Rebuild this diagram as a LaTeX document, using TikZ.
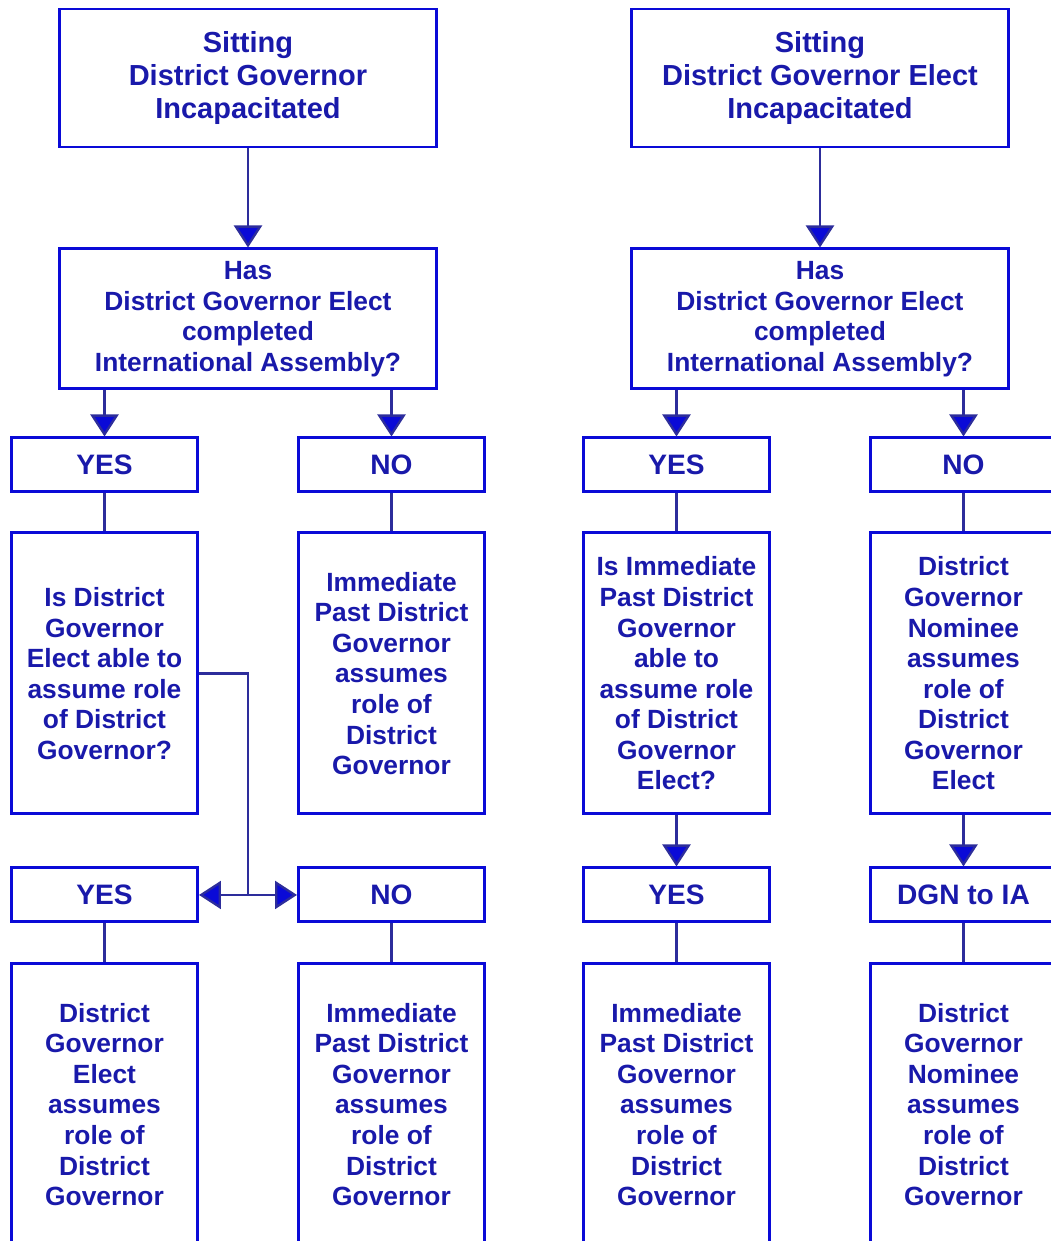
\documentclass[tikz,border=0pt]{standalone}
\usepackage{fontspec}
\setmainfont{Liberation Sans}
\usetikzlibrary{positioning, arrows.meta, calc}
\definecolor{boxblue}{RGB}{10,10,215}
\definecolor{textblue}{RGB}{25,25,170}
\definecolor{lineblue}{RGB}{45,45,155}
\tikzset{
>={Triangle[width=0.56cm,length=0.44cm]}, % big filled arrow heads
every node/.style={text=textblue}, % all texts in dark blue
headbox/.style={draw=boxblue, line width=1.7pt, minimum width=7.54cm, minimum height=2.76cm, align=center, font=\fontsize{16.5}{19}\selectfont\bfseries},
askbox/.style={headbox, minimum height=2.8cm, font=\fontsize{15}{17.4}\selectfont\bfseries},
answer/.style={draw=boxblue, line width=1.7pt, minimum width=3.72cm, minimum height=1.08cm, align=center, font=\fontsize{16}{18}\selectfont\bfseries},
result/.style={answer, minimum height=5.62cm, font=\fontsize{15}{17.4}\selectfont\bfseries},
link/.style={draw=lineblue, line width=1.3pt}, % plain connector
flow/.style={link, ->, >={Triangle[width=0.56cm,length=0.44cm,fill=boxblue]}, color=lineblue}, % connector with head
}

\begin{document}
\begin{tikzpicture}
        \useasboundingbox (0,0) rectangle (21.02,-24.82);

        % left tree
        \node[headbox] (dg) at (4.96,-1.56) {Sitting\\District Governor\\Incapacitated};
        \node[askbox, below=1.98cm of dg] (has1) {Has\\District Governor Elect\\completed\\International Assembly?};
        \node[answer, below=0.92cm of has1, xshift=-2.87cm] (yes1) {YES};
        \node[answer, below=0.92cm of has1, xshift=2.87cm] (no1) {NO};
        \node[result, below=0.76cm of yes1] (able1) {Is District\\Governor\\Elect able to\\assume role\\of District\\Governor?};
        \node[result, below=0.76cm of no1] (ipdg1) {Immediate\\Past District\\Governor\\assumes\\role of\\District\\Governor};
        \node[answer, below=1.02cm of able1] (yes2) {YES};
        \node[answer, below=1.02cm of ipdg1] (no2) {NO};
        \node[result, below=0.78cm of yes2] (dge1) {District\\Governor\\Elect\\assumes\\role of\\District\\Governor};
        \node[result, below=0.78cm of no2] (ipdg2) {Immediate\\Past District\\Governor\\assumes\\role of\\District\\Governor};
        \coordinate (split) at ($(yes2.east)!0.5!(no2.west)$);

        % right tree
        \node[headbox, right=3.84cm of dg] (dge) {Sitting\\District Governor Elect\\Incapacitated};
        \node[askbox, below=1.98cm of dge] (has2) {Has\\District Governor Elect\\completed\\International Assembly?};
        \node[answer, below=0.92cm of has2, xshift=-2.87cm] (yes3) {YES};
        \node[answer, below=0.92cm of has2, xshift=2.87cm] (no3) {NO};
        \node[result, below=0.76cm of yes3] (able2) {Is Immediate\\Past District\\Governor\\able to\\assume role\\of District\\Governor\\Elect?};
        \node[result, below=0.76cm of no3] (dgn1) {District\\Governor\\Nominee\\assumes\\role of\\District\\Governor\\Elect};
        \node[answer, below=1.02cm of able2] (yes4) {YES};
        \node[answer, below=1.02cm of dgn1] (ia) {DGN to IA};
        \node[result, below=0.78cm of yes4] (ipdg3) {Immediate\\Past District\\Governor\\assumes\\role of\\District\\Governor};
        \node[result, below=0.78cm of ia] (dgn2) {District\\Governor\\Nominee\\assumes\\role of\\District\\Governor};

        \draw[flow] (dg) -- (has1);
        \draw[flow] (yes1 |- has1.south) -- (yes1);
        \draw[flow] (no1 |- has1.south) -- (no1);
        \draw[link] (yes1) -- (able1);
        \draw[link] (no1) -- (ipdg1);
        \draw[link] (able1.east) -| (split);
        \draw[flow] (split) -- (yes2);
        \draw[flow] (split) -- (no2);
        \draw[link] (yes2) -- (dge1);
        \draw[link] (no2) -- (ipdg2);

        \draw[flow] (dge) -- (has2);
        \draw[flow] (yes3 |- has2.south) -- (yes3);
        \draw[flow] (no3 |- has2.south) -- (no3);
        \draw[link] (yes3) -- (able2);
        \draw[link] (no3) -- (dgn1);
        \draw[flow] (able2) -- (yes4);
        \draw[flow] (dgn1) -- (ia);
        \draw[link] (yes4) -- (ipdg3);
        \draw[link] (ia) -- (dgn2);
      \end{tikzpicture}
\end{document}
